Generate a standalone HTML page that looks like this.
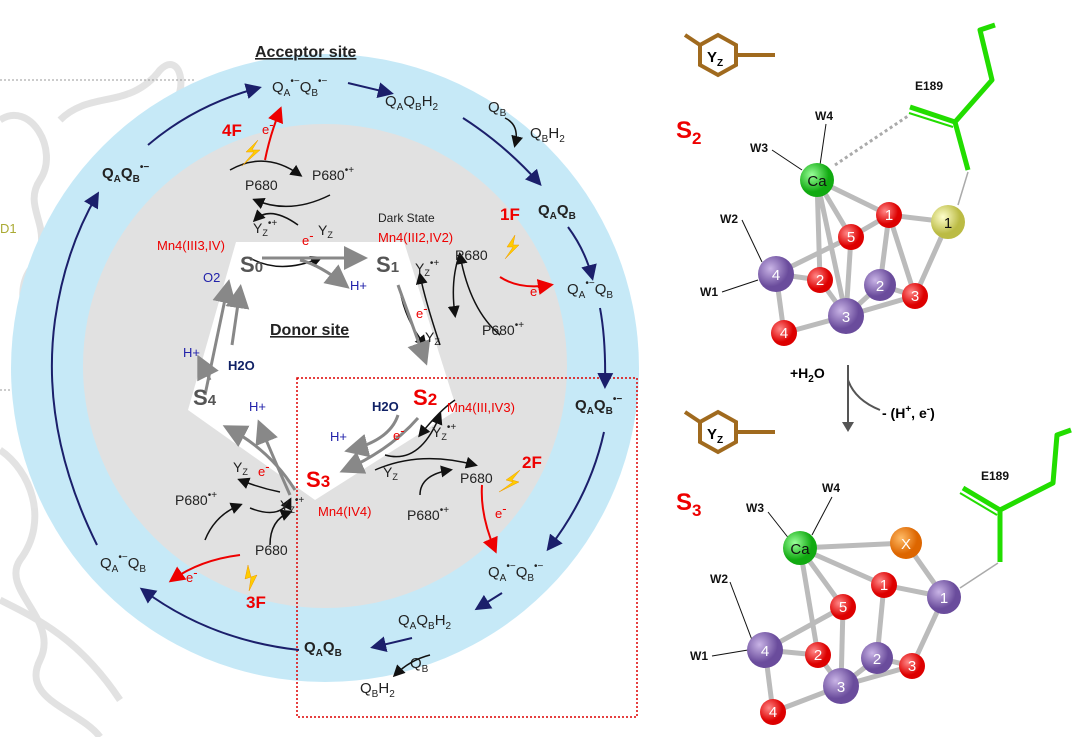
<!DOCTYPE html>
<html><head><meta charset="utf-8"><style>
body{margin:0;background:#fff}
svg{display:block;font-family:"Liberation Sans",sans-serif}
</style></head><body>
<svg width="1080" height="737" viewBox="0 0 1080 737" xmlns="http://www.w3.org/2000/svg">
<defs>
<marker id="an" markerWidth="8" markerHeight="8" refX="6" refY="4" orient="auto"><path d="M0,0 L8,4 L0,8 z" fill="#1b1f6b"/></marker>
<marker id="ak" markerWidth="8" markerHeight="8" refX="6" refY="4" orient="auto"><path d="M0,0 L8,4 L0,8 z" fill="#111"/></marker>
<marker id="ag" markerWidth="8" markerHeight="8" refX="6" refY="4" orient="auto"><path d="M0,0 L8,4 L0,8 z" fill="#888"/></marker>
<marker id="ar" markerWidth="8" markerHeight="8" refX="6" refY="4" orient="auto"><path d="M0,0 L8,4 L0,8 z" fill="#e00"/></marker>
<radialGradient id="gc" cx="0.35" cy="0.35"><stop offset="0" stop-color="#9f9"/><stop offset="1" stop-color="#1a1"/></radialGradient>
<radialGradient id="rc" cx="0.35" cy="0.35"><stop offset="0" stop-color="#f88"/><stop offset="1" stop-color="#d00"/></radialGradient>
<radialGradient id="pc" cx="0.35" cy="0.35"><stop offset="0" stop-color="#c9b4e6"/><stop offset="1" stop-color="#6a4c9c"/></radialGradient>
<radialGradient id="yc" cx="0.35" cy="0.35"><stop offset="0" stop-color="#ffc"/><stop offset="1" stop-color="#bb4"/></radialGradient>
<radialGradient id="oc" cx="0.35" cy="0.35"><stop offset="0" stop-color="#fb6"/><stop offset="1" stop-color="#d60"/></radialGradient>
</defs>
<!-- faded background -->
<g stroke="#dcdcdc" stroke-width="7" fill="none" opacity="0.8">
<path d="M0,120 C30,100 60,150 40,180 C20,210 60,230 30,270 C10,300 40,330 20,360"/>
<path d="M60,120 C90,90 130,110 160,70 C180,50 190,90 170,110"/>
<path d="M0,450 C30,470 50,520 20,560 C0,590 60,620 40,660 C20,700 80,710 100,737"/>
<path d="M0,600 C40,620 80,640 120,700"/>
</g>
<line x1="0" y1="80" x2="195" y2="80" stroke="#999" stroke-dasharray="2,2"/>
<line x1="0" y1="390" x2="30" y2="390" stroke="#999" stroke-dasharray="2,2"/>
<text x="0" y="233" font-size="13" fill="#aa3">D1</text>
<!-- rings -->
<circle cx="325" cy="368" r="314" fill="#c6e9f7"/>
<circle cx="325" cy="366" r="242" fill="#e1e1e1"/>
<polygon points="236,242 404,242 457,410 315,500 188,410" fill="#fff"/>
<!-- red dotted box -->
<rect x="297" y="378" width="340" height="339" fill="none" stroke="#d00" stroke-width="1.5" stroke-dasharray="2,2"/>
<text x="255" y="57" font-size="16" font-weight="bold" text-decoration="underline" fill="#222">Acceptor site</text>
<text x="270" y="335" font-size="16" font-weight="bold" text-decoration="underline" fill="#222">Donor site</text>
<!-- outer navy arrows -->
<g stroke="#1b1f6b" stroke-width="2" fill="none" marker-end="url(#an)">
<path d="M148,145 Q195,105 258,88"/>
<path d="M348,83 L390,93"/>
<path d="M463,118 Q505,145 539,183"/>
<path d="M568,227 Q585,250 592,277"/>
<path d="M600,308 Q606,340 605,385"/>
<path d="M604,432 Q590,495 549,548"/>
<path d="M502,593 L478,608"/>
<path d="M412,638 L374,647"/>
<path d="M299,650 Q210,640 143,590"/>
<path d="M97,545 Q40,430 55,320 Q65,250 97,195"/>
</g>
<!-- acceptor labels -->
<g font-size="15" fill="#222">
<text x="272" y="92">Q<tspan font-size="10" dy="4">A</tspan><tspan font-size="10" dy="-12">•−</tspan><tspan dy="8">Q</tspan><tspan font-size="10" dy="4">B</tspan><tspan font-size="10" dy="-12">•−</tspan></text>
<text x="385" y="106">Q<tspan font-size="10" dy="4">A</tspan><tspan dy="-4">Q</tspan><tspan font-size="10" dy="4">B</tspan><tspan dy="-4">H</tspan><tspan font-size="10" dy="4">2</tspan></text>
<text x="488" y="112">Q<tspan font-size="10" dy="4">B</tspan></text>
<text x="530" y="138">Q<tspan font-size="10" dy="4">B</tspan><tspan dy="-4">H</tspan><tspan font-size="10" dy="4">2</tspan></text>
<text x="538" y="215" font-weight="bold">Q<tspan font-size="10" dy="4">A</tspan><tspan dy="-4">Q</tspan><tspan font-size="10" dy="4">B</tspan></text>
<text x="567" y="294">Q<tspan font-size="10" dy="4">A</tspan><tspan font-size="10" dy="-12">•−</tspan><tspan dy="8">Q</tspan><tspan font-size="10" dy="4">B</tspan></text>
<text x="575" y="410" font-weight="bold">Q<tspan font-size="10" dy="4">A</tspan><tspan dy="-4">Q</tspan><tspan font-size="10" dy="4">B</tspan><tspan font-size="10" dy="-12">•−</tspan></text>
<text x="488" y="577">Q<tspan font-size="10" dy="4">A</tspan><tspan font-size="10" dy="-12">•−</tspan><tspan dy="8">Q</tspan><tspan font-size="10" dy="4">B</tspan><tspan font-size="10" dy="-12">•−</tspan></text>
<text x="398" y="625">Q<tspan font-size="10" dy="4">A</tspan><tspan dy="-4">Q</tspan><tspan font-size="10" dy="4">B</tspan><tspan dy="-4">H</tspan><tspan font-size="10" dy="4">2</tspan></text>
<text x="304" y="652" font-weight="bold">Q<tspan font-size="10" dy="4">A</tspan><tspan dy="-4">Q</tspan><tspan font-size="10" dy="4">B</tspan></text>
<text x="410" y="668">Q<tspan font-size="10" dy="4">B</tspan></text>
<text x="360" y="693">Q<tspan font-size="10" dy="4">B</tspan><tspan dy="-4">H</tspan><tspan font-size="10" dy="4">2</tspan></text>
<text x="100" y="568">Q<tspan font-size="10" dy="4">A</tspan><tspan font-size="10" dy="-12">•−</tspan><tspan dy="8">Q</tspan><tspan font-size="10" dy="4">B</tspan></text>
<text x="102" y="178" font-weight="bold">Q<tspan font-size="10" dy="4">A</tspan><tspan dy="-4">Q</tspan><tspan font-size="10" dy="4">B</tspan><tspan font-size="10" dy="-12">•−</tspan></text>
</g>
<g stroke="#111" stroke-width="1.5" fill="none" marker-end="url(#ak)">
<path d="M505,118 Q520,125 515,145"/>
<path d="M430,655 Q410,660 395,675"/>
<path d="M230,170 Q265,150 300,175"/><path d="M330,195 Q290,215 255,200"/>
<path d="M298,225 Q270,205 255,220"/>
<path d="M250,258 Q280,275 320,258"/>
<path d="M400,290 Q405,320 425,345"/><path d="M440,345 Q425,300 420,275"/>
<path d="M460,253 Q450,280 455,315"/><path d="M500,335 Q470,310 460,255"/>
<path d="M455,400 Q440,410 420,435"/><path d="M385,455 Q420,465 440,415"/>
<path d="M375,470 Q420,450 475,465"/><path d="M420,495 Q420,475 450,470"/>
<path d="M280,492 Q260,488 240,480"/><path d="M250,508 Q280,520 290,500"/>
<path d="M205,540 Q215,515 240,505"/><path d="M270,545 Q270,520 290,512"/>
</g>
<!-- gray state arrows -->
<g stroke="#888" stroke-width="3" fill="none" marker-end="url(#ag)">
<path d="M262,258 L362,258"/><path d="M300,260 Q320,265 345,285"/>
<path d="M398,285 L425,360"/>
<path d="M418,418 Q390,450 345,470"/><path d="M398,415 Q390,440 350,450"/>
<path d="M295,490 Q270,450 228,428"/><path d="M290,495 Q270,450 260,425"/>
<path d="M205,395 L228,285"/><path d="M232,345 L240,290"/><path d="M210,380 L200,360"/>
</g>
<!-- red arrows -->
<g stroke="#e00" stroke-width="2" fill="none" marker-end="url(#ar)">
<path d="M265,160 Q270,135 280,110"/>
<path d="M500,277 Q520,290 550,285"/>
<path d="M482,485 Q480,515 495,550"/>
<path d="M240,555 Q200,560 172,580"/>
</g>
<!-- lightning -->
<g fill="#fc0" stroke="#e90" stroke-width="0.5">
<path d="M258,140 l-12,12 l8,0 l-12,14 l18,-16 l-8,0 z"/>
<path d="M515,235 l-8,12 l6,0 l-8,12 l14,-14 l-6,0 z"/>
<path d="M520,470 l-14,10 l7,2 l-14,10 l20,-10 l-7,-2 z"/>
<path d="M248,565 l-3,14 l6,-2 l-2,14 l8,-16 l-6,2 z"/>
</g>
<g font-weight="bold" fill="#e00" font-size="17">
<text x="222" y="136">4F</text><text x="500" y="220">1F</text><text x="522" y="468">2F</text><text x="246" y="608">3F</text>
</g>
<g font-size="14" fill="#222">
<text x="245" y="190">P680</text><text x="312" y="180">P680<tspan font-size="10" dy="-7">•+</tspan></text>
<text x="253" y="233">Y<tspan font-size="9" dy="3">Z</tspan><tspan font-size="10" dy="-10">•+</tspan></text>
<text x="318" y="235">Y<tspan font-size="9" dy="3">Z</tspan></text>
<text x="378" y="222" font-size="12">Dark State</text>
<text x="415" y="273">Y<tspan font-size="9" dy="3">Z</tspan><tspan font-size="10" dy="-10">•+</tspan></text>
<text x="455" y="260">P680</text>
<text x="482" y="335">P680<tspan font-size="10" dy="-7">•+</tspan></text>
<text x="425" y="342">Y<tspan font-size="9" dy="3">Z</tspan></text>
<text x="432" y="437">Y<tspan font-size="9" dy="3">Z</tspan><tspan font-size="10" dy="-10">•+</tspan></text>
<text x="383" y="477">Y<tspan font-size="9" dy="3">Z</tspan></text>
<text x="460" y="483">P680</text>
<text x="407" y="520">P680<tspan font-size="10" dy="-7">•+</tspan></text>
<text x="233" y="472">Y<tspan font-size="9" dy="3">Z</tspan></text>
<text x="280" y="510">Y<tspan font-size="9" dy="3">Z</tspan><tspan font-size="10" dy="-10">•+</tspan></text>
<text x="175" y="505">P680<tspan font-size="10" dy="-7">•+</tspan></text>
<text x="255" y="555">P680</text>
</g>
<g fill="#e00" font-size="13">
<text x="262" y="134">e<tspan dy="-5">-</tspan></text><text x="302" y="245">e<tspan dy="-5">-</tspan></text>
<text x="416" y="318">e<tspan dy="-5">-</tspan></text><text x="530" y="296">e<tspan dy="-5">-</tspan></text>
<text x="393" y="440">e<tspan dy="-5">-</tspan></text><text x="495" y="518">e<tspan dy="-5">-</tspan></text>
<text x="258" y="476">e<tspan dy="-5">-</tspan></text><text x="186" y="582">e<tspan dy="-5">-</tspan></text>
<text x="157" y="250">Mn4(III3,IV)</text><text x="378" y="242">Mn4(III2,IV2)</text>
<text x="447" y="412">Mn4(III,IV3)</text><text x="318" y="516">Mn4(IV4)</text>
</g>
<g font-size="22" font-weight="bold">
<text x="240" y="272" fill="#555">S<tspan font-size="15">0</tspan></text>
<text x="376" y="272" fill="#555">S<tspan font-size="15">1</tspan></text>
<text x="413" y="405" fill="#e00">S<tspan font-size="17">2</tspan></text>
<text x="306" y="487" fill="#e00">S<tspan font-size="17">3</tspan></text>
<text x="193" y="405" fill="#555">S<tspan font-size="15">4</tspan></text>
</g>
<g font-size="13" fill="#22a">
<text x="203" y="282">O2</text><text x="350" y="290">H+</text>
<text x="183" y="357">H+</text><text x="228" y="370" font-weight="bold" fill="#126">H2O</text>
<text x="249" y="411">H+</text><text x="372" y="411" font-weight="bold" fill="#126">H2O</text>
<text x="330" y="441">H+</text>
</g>
<!-- right: S2 -->
<g stroke="#a06a1e" stroke-width="4" fill="none">
<polygon points="700,45 718,35 736,45 736,65 718,75 700,65"/><line x1="736" y1="55" x2="775" y2="55"/><line x1="700" y1="45" x2="685" y2="35"/>
<polygon points="700,422 718,412 736,422 736,442 718,452 700,442"/><line x1="736" y1="432" x2="775" y2="432"/><line x1="700" y1="422" x2="685" y2="412"/>
</g>
<text x="707" y="62" font-size="15" font-weight="bold">Y<tspan font-size="10" dy="4">Z</tspan></text>
<text x="707" y="439" font-size="15" font-weight="bold">Y<tspan font-size="10" dy="4">Z</tspan></text>
<text x="676" y="138" font-size="24" font-weight="bold" fill="#e00">S<tspan font-size="17" dy="6">2</tspan></text>
<text x="676" y="510" font-size="24" font-weight="bold" fill="#e00">S<tspan font-size="17" dy="6">3</tspan></text>
<g stroke="#22dd00" stroke-width="5" fill="none" stroke-linejoin="round">
<polyline points="995,25 980,30 992,80 955,122 968,170"/>
<line x1="955" y1="122" x2="910" y2="107"/><line x1="953" y1="127" x2="909" y2="113" stroke-width="2"/>
<polyline points="1071,430 1057,435 1053,483 1000,510 1000,562"/>
<line x1="1000" y1="510" x2="963" y2="488"/><line x1="997" y1="515" x2="960" y2="493" stroke-width="2"/>
</g>
<g stroke="#aaa" stroke-width="1.5">
<line x1="968" y1="172" x2="958" y2="205"/><line x1="998" y1="563" x2="960" y2="588"/>
<line x1="835" y1="165" x2="908" y2="116" stroke-dasharray="3,3" stroke-width="3"/>
</g>
<g font-size="12" font-weight="bold" fill="#111">
<text x="915" y="90">E189</text><text x="815" y="120">W4</text><text x="750" y="152">W3</text><text x="720" y="223">W2</text><text x="700" y="296">W1</text>
<text x="981" y="480">E189</text><text x="822" y="492">W4</text><text x="746" y="512">W3</text><text x="710" y="583">W2</text><text x="690" y="660">W1</text>
</g>
<g stroke="#111" stroke-width="1"><line x1="772" y1="150" x2="802" y2="170"/><line x1="826" y1="124" x2="820" y2="165"/><line x1="742" y1="220" x2="762" y2="262"/><line x1="722" y1="292" x2="758" y2="280"/>
<line x1="768" y1="512" x2="790" y2="540"/><line x1="832" y1="497" x2="812" y2="535"/><line x1="730" y1="582" x2="752" y2="640"/><line x1="712" y1="656" x2="748" y2="650"/></g>
<g stroke="#bbb" stroke-width="5" fill="none" stroke-linecap="round">
<path d="M817,180 L851,237 L889,215 L948,222 M817,180 L889,215 M817,180 L820,280 M817,180 L846,316 M776,274 L851,237 M776,274 L820,280 M776,274 L784,333 L846,316 L820,280 M851,237 L846,316 M889,215 L880,285 L915,296 L948,222 M880,285 L846,316 M846,316 L915,296 M889,215 L915,296"/>
<path d="M800,548 L906,543 L944,597 M800,548 L884,585 L944,597 M800,548 L843,607 M800,548 L818,655 M765,650 L843,607 M765,650 L818,655 L841,686 M765,650 L773,712 L841,686 M843,607 L841,686 M884,585 L877,658 L912,666 L944,597 M877,658 L841,686 L912,666"/>
</g>
<g font-size="15" text-anchor="middle" fill="#111">
<circle cx="817" cy="180" r="17" fill="url(#gc)"/><text x="817" y="186">Ca</text>
<circle cx="851" cy="237" r="13" fill="url(#rc)"/><text x="851" y="242" fill="#fff">5</text>
<circle cx="889" cy="215" r="13" fill="url(#rc)"/><text x="889" y="220" fill="#fff">1</text>
<circle cx="948" cy="222" r="17" fill="url(#yc)"/><text x="948" y="228">1</text>
<circle cx="776" cy="274" r="18" fill="url(#pc)"/><text x="776" y="280" fill="#fff">4</text>
<circle cx="820" cy="280" r="13" fill="url(#rc)"/><text x="820" y="285" fill="#fff">2</text>
<circle cx="880" cy="285" r="16" fill="url(#pc)"/><text x="880" y="291" fill="#fff">2</text>
<circle cx="915" cy="296" r="13" fill="url(#rc)"/><text x="915" y="301" fill="#fff">3</text>
<circle cx="846" cy="316" r="18" fill="url(#pc)"/><text x="846" y="322" fill="#fff">3</text>
<circle cx="784" cy="333" r="13" fill="url(#rc)"/><text x="784" y="338" fill="#fff">4</text>
<circle cx="800" cy="548" r="17" fill="url(#gc)"/><text x="800" y="554">Ca</text>
<circle cx="906" cy="543" r="16" fill="url(#oc)"/><text x="906" y="549" fill="#fff">X</text>
<circle cx="884" cy="585" r="13" fill="url(#rc)"/><text x="884" y="590" fill="#fff">1</text>
<circle cx="944" cy="597" r="17" fill="url(#pc)"/><text x="944" y="603" fill="#fff">1</text>
<circle cx="843" cy="607" r="13" fill="url(#rc)"/><text x="843" y="612" fill="#fff">5</text>
<circle cx="765" cy="650" r="18" fill="url(#pc)"/><text x="765" y="656" fill="#fff">4</text>
<circle cx="818" cy="655" r="13" fill="url(#rc)"/><text x="818" y="660" fill="#fff">2</text>
<circle cx="877" cy="658" r="16" fill="url(#pc)"/><text x="877" y="664" fill="#fff">2</text>
<circle cx="912" cy="666" r="13" fill="url(#rc)"/><text x="912" y="671" fill="#fff">3</text>
<circle cx="841" cy="686" r="18" fill="url(#pc)"/><text x="841" y="692" fill="#fff">3</text>
<circle cx="773" cy="712" r="13" fill="url(#rc)"/><text x="773" y="717" fill="#fff">4</text>
</g>
<g stroke="#555" stroke-width="2" fill="none"><line x1="848" y1="365" x2="848" y2="425"/><path d="M848,380 Q855,400 880,410"/></g>
<path d="M842,422 L848,432 L854,422 z" fill="#555"/>
<text x="790" y="378" font-size="14" font-weight="bold">+H<tspan font-size="10" dy="4">2</tspan><tspan dy="-4">O</tspan></text>
<text x="882" y="418" font-size="14" font-weight="bold">- (H<tspan font-size="10" dy="-6">+</tspan><tspan dy="6">, e</tspan><tspan font-size="10" dy="-6">-</tspan><tspan dy="6">)</tspan></text>
</svg>
</body></html>
